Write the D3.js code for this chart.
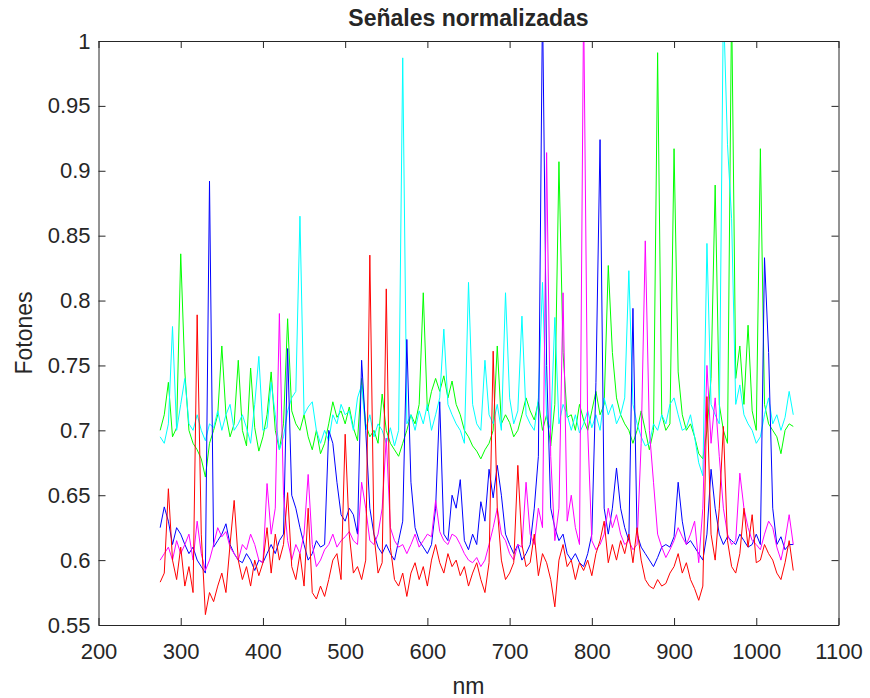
<!DOCTYPE html>
<html>
<head>
<meta charset="utf-8">
<script src="https://cdn.jsdelivr.net/npm/d3@7"></script>
<style>
  body { margin: 0; background: #fff; }
  svg text { font-family: "Liberation Sans", Arial, sans-serif; fill: #262626; }
</style>
</head>
<body>
<svg id="chart" width="870" height="698"></svg>
<script>
// wavelength grid (nm), one reading every 5 nm
const nm = d3.range(275, 1046, 5);

const green = [
  0.700,0.712,0.737,0.695,0.702,0.836,0.745,0.700,0.690,0.685,
  0.678,0.664,0.690,0.700,0.712,0.765,0.712,0.695,0.705,0.754,
  0.700,0.688,0.748,0.702,0.684,0.695,0.712,0.745,0.700,0.685,
  0.705,0.786,0.715,0.705,0.700,0.712,0.695,0.685,0.700,0.682,
  0.690,0.705,0.722,0.710,0.715,0.705,0.718,0.702,0.692,0.740,
  0.705,0.695,0.700,0.690,0.728,0.700,0.690,0.685,0.680,0.690,
  0.700,0.712,0.705,0.720,0.806,0.715,0.730,0.740,0.730,0.742,
  0.725,0.738,0.720,0.712,0.700,0.695,0.688,0.684,0.678,0.685,
  0.690,0.700,0.765,0.705,0.712,0.706,0.695,0.700,0.712,0.725,
  0.715,0.708,0.722,0.700,0.712,0.688,0.720,0.907,0.760,0.710,
  0.712,0.700,0.720,0.708,0.700,0.715,0.730,0.712,0.720,0.827,
  0.760,0.725,0.712,0.705,0.700,0.690,0.700,0.715,0.700,0.685,
  0.700,0.991,0.712,0.700,0.705,0.917,0.745,0.712,0.700,0.705,
  0.695,0.682,0.678,0.700,0.740,0.889,0.720,0.700,0.690,1.030,
  0.740,0.765,0.720,0.781,0.715,0.700,0.917,0.720,0.705,0.700,
  0.695,0.682,0.700,0.705,0.703
];

const cyan = [
  0.695,0.690,0.705,0.780,0.700,0.720,0.740,0.705,0.700,0.712,
  0.700,0.692,0.705,0.702,0.715,0.700,0.712,0.720,0.700,0.705,
  0.712,0.702,0.690,0.720,0.757,0.700,0.702,0.737,0.712,0.685,
  0.695,0.715,0.725,0.730,0.865,0.712,0.718,0.722,0.700,0.690,
  0.700,0.692,0.712,0.705,0.720,0.712,0.715,0.700,0.725,0.735,
  0.700,0.712,0.695,0.705,0.700,0.690,0.702,0.688,0.700,0.987,
  0.705,0.712,0.700,0.715,0.705,0.720,0.700,0.712,0.725,0.778,
  0.720,0.712,0.705,0.700,0.690,0.814,0.720,0.705,0.700,0.754,
  0.712,0.705,0.720,0.700,0.806,0.725,0.705,0.715,0.788,0.712,
  0.705,0.700,0.725,0.814,0.710,0.700,0.787,0.705,0.720,0.712,
  0.700,0.712,0.698,0.705,0.715,0.702,0.712,0.700,0.725,0.712,
  0.720,0.705,0.712,0.725,0.823,0.720,0.705,0.695,0.688,0.690,
  0.705,0.700,0.712,0.705,0.720,0.725,0.712,0.700,0.702,0.712,
  0.695,0.675,0.665,0.844,0.720,0.712,0.705,1.030,0.920,0.863,
  0.720,0.735,0.712,0.705,0.700,0.690,0.695,0.712,0.725,0.705,
  0.712,0.700,0.710,0.730,0.712
];

const blue = [
  0.625,0.641,0.630,0.612,0.625,0.620,0.612,0.605,0.610,0.600,
  0.595,0.590,0.892,0.610,0.615,0.620,0.628,0.612,0.605,0.600,
  0.598,0.605,0.600,0.592,0.600,0.598,0.605,0.612,0.605,0.615,
  0.620,0.763,0.650,0.640,0.625,0.612,0.600,0.605,0.615,0.610,
  0.612,0.700,0.690,0.660,0.635,0.630,0.640,0.635,0.620,0.754,
  0.700,0.640,0.620,0.610,0.605,0.612,0.605,0.600,0.615,0.630,
  0.770,0.660,0.625,0.615,0.610,0.605,0.612,0.640,0.722,0.620,
  0.615,0.650,0.640,0.662,0.615,0.608,0.620,0.612,0.645,0.630,
  0.670,0.648,0.673,0.650,0.620,0.612,0.605,0.612,0.600,0.605,
  0.612,0.640,0.680,1.030,0.750,0.640,0.625,0.615,0.620,0.605,
  0.600,0.605,0.598,0.595,0.605,0.620,0.737,0.924,0.640,0.620,
  0.640,0.671,0.640,0.625,0.615,0.794,0.620,0.610,0.605,0.600,
  0.595,0.602,0.610,0.612,0.610,0.618,0.660,0.630,0.612,0.615,
  0.610,0.605,0.600,0.620,0.670,0.640,0.620,0.612,0.618,0.615,
  0.612,0.620,0.615,0.610,0.612,0.620,0.612,0.833,0.760,0.640,
  0.612,0.618,0.608,0.612,0.612
];

const magenta = [
  0.600,0.605,0.610,0.600,0.615,0.605,0.612,0.620,0.600,0.630,
  0.605,0.592,0.600,0.612,0.625,0.618,0.622,0.610,0.605,0.600,
  0.612,0.608,0.620,0.612,0.600,0.598,0.659,0.620,0.640,0.790,
  0.650,0.615,0.600,0.612,0.605,0.620,0.666,0.612,0.595,0.600,
  0.608,0.612,0.620,0.610,0.615,0.618,0.622,0.615,0.612,0.660,
  0.640,0.615,0.612,0.620,0.640,0.694,0.625,0.615,0.610,0.612,
  0.605,0.612,0.620,0.610,0.615,0.620,0.618,0.646,0.622,0.615,
  0.612,0.620,0.618,0.612,0.605,0.600,0.598,0.602,0.595,0.600,
  0.612,0.625,0.640,0.620,0.615,0.605,0.600,0.612,0.610,0.660,
  0.620,0.612,0.640,0.625,0.914,0.680,0.615,0.640,0.806,0.630,
  0.650,0.625,0.612,1.030,0.700,0.615,0.608,0.612,0.620,0.640,
  0.625,0.635,0.620,0.612,0.615,0.608,0.612,0.690,0.846,0.700,
  0.660,0.620,0.610,0.602,0.608,0.615,0.625,0.618,0.612,0.620,
  0.630,0.598,0.640,0.750,0.690,0.725,0.680,0.640,0.620,0.612,
  0.615,0.667,0.640,0.625,0.615,0.612,0.608,0.620,0.630,0.625,
  0.610,0.600,0.615,0.635,0.612
];

const red = [
  0.583,0.590,0.655,0.600,0.585,0.610,0.580,0.595,0.575,0.789,
  0.620,0.558,0.575,0.568,0.580,0.590,0.575,0.612,0.646,0.600,
  0.585,0.595,0.580,0.600,0.588,0.598,0.625,0.590,0.620,0.600,
  0.612,0.652,0.595,0.585,0.605,0.580,0.640,0.575,0.570,0.580,
  0.572,0.585,0.600,0.605,0.585,0.697,0.620,0.590,0.595,0.585,
  0.600,0.835,0.620,0.590,0.598,0.809,0.610,0.585,0.580,0.590,
  0.572,0.590,0.598,0.585,0.595,0.580,0.600,0.612,0.598,0.590,
  0.605,0.595,0.600,0.588,0.595,0.580,0.590,0.598,0.585,0.575,
  0.598,0.761,0.640,0.600,0.585,0.590,0.598,0.673,0.612,0.595,
  0.598,0.620,0.588,0.605,0.598,0.585,0.564,0.600,0.612,0.595,
  0.600,0.585,0.598,0.592,0.600,0.588,0.605,0.615,0.630,0.598,
  0.612,0.600,0.615,0.605,0.620,0.598,0.625,0.600,0.585,0.580,
  0.578,0.585,0.580,0.582,0.590,0.595,0.605,0.590,0.598,0.585,
  0.578,0.569,0.580,0.726,0.620,0.600,0.640,0.703,0.615,0.595,
  0.590,0.605,0.640,0.610,0.635,0.598,0.600,0.612,0.605,0.600,
  0.590,0.585,0.598,0.615,0.592
];

const xTicks = [200, 300, 400, 500, 600, 700, 800, 900, 1000, 1100];
const yTicks = [0.55, 0.6, 0.65, 0.7, 0.75, 0.8, 0.85, 0.9, 0.95, 1];

const series = [
  { values: green, color: '#00ff00' },
  { values: cyan, color: '#00ffff' },
  { values: blue, color: '#0000ff' },
  { values: magenta, color: '#ff00ff' },
  { values: red, color: '#ff0000' }
];

const svg = d3.select('#chart');
const plot = { left: 98.5, right: 838.5, top: 41, bottom: 625 };
const axisColor = '#262626';

const x = d3.scaleLinear().domain([200, 1100]).range([plot.left, plot.right]);
const y = d3.scaleLinear().domain([0.55, 1]).range([plot.bottom, plot.top]);

svg.append('defs').append('clipPath')
    .attr('id', 'plot-clip')
    .append('rect')
    .attr('x', plot.left)
    .attr('y', plot.top)
    .attr('width', plot.right - plot.left)
    .attr('height', plot.bottom - plot.top);

const line = d3.line()
    .x((d, i) => x(nm[i]))
    .y(d => y(d));

svg.append('g')
    .attr('clip-path', 'url(#plot-clip)')
    .selectAll('path')
    .data(series)
    .enter().append('path')
    .attr('d', d => line(d.values))
    .attr('fill', 'none')
    .attr('stroke', d => d.color)
    .attr('stroke-width', 1)
    .attr('stroke-linejoin', 'round');

const styleAxis = g => {
    g.attr('font-family', null).attr('font-size', null);
    g.select('.domain').attr('stroke', axisColor).attr('stroke-width', 1);
    g.selectAll('.tick line').attr('stroke', axisColor);
    g.selectAll('.tick text')
        .attr('fill', axisColor)
        .style('font-size', '22px');
};

svg.append('g')
    .attr('transform', `translate(0,${plot.bottom})`)
    .call(d3.axisBottom(x).tickValues(xTicks).tickFormat(d => String(d))
        .tickSize(-7).tickSizeOuter(0).tickPadding(18))
    .call(styleAxis);

svg.append('g')
    .attr('transform', `translate(0,${plot.top})`)
    .call(d3.axisTop(x).tickValues(xTicks).tickFormat('')
        .tickSize(-7).tickSizeOuter(0))
    .call(styleAxis);

svg.append('g')
    .attr('transform', `translate(${plot.left},0)`)
    .call(d3.axisLeft(y).tickValues(yTicks).tickFormat(d => String(+d.toFixed(2)))
        .tickSize(-7).tickSizeOuter(0).tickPadding(8))
    .call(styleAxis);

svg.append('g')
    .attr('transform', `translate(${plot.right},0)`)
    .call(d3.axisRight(y).tickValues(yTicks).tickFormat('')
        .tickSize(-7).tickSizeOuter(0))
    .call(styleAxis);

svg.append('text')
    .attr('x', (plot.left + plot.right) / 2)
    .attr('y', 26)
    .attr('text-anchor', 'middle')
    .style('font-size', '23px')
    .style('font-weight', 'bold')
    .text('Señales normalizadas');

svg.append('text')
    .attr('x', (plot.left + plot.right) / 2)
    .attr('y', 694)
    .attr('text-anchor', 'middle')
    .style('font-size', '23px')
    .text('nm');

svg.append('text')
    .attr('transform', `translate(32,${(plot.top + plot.bottom) / 2}) rotate(-90)`)
    .attr('text-anchor', 'middle')
    .style('font-size', '23px')
    .text('Fotones');
</script>
</body>
</html>
